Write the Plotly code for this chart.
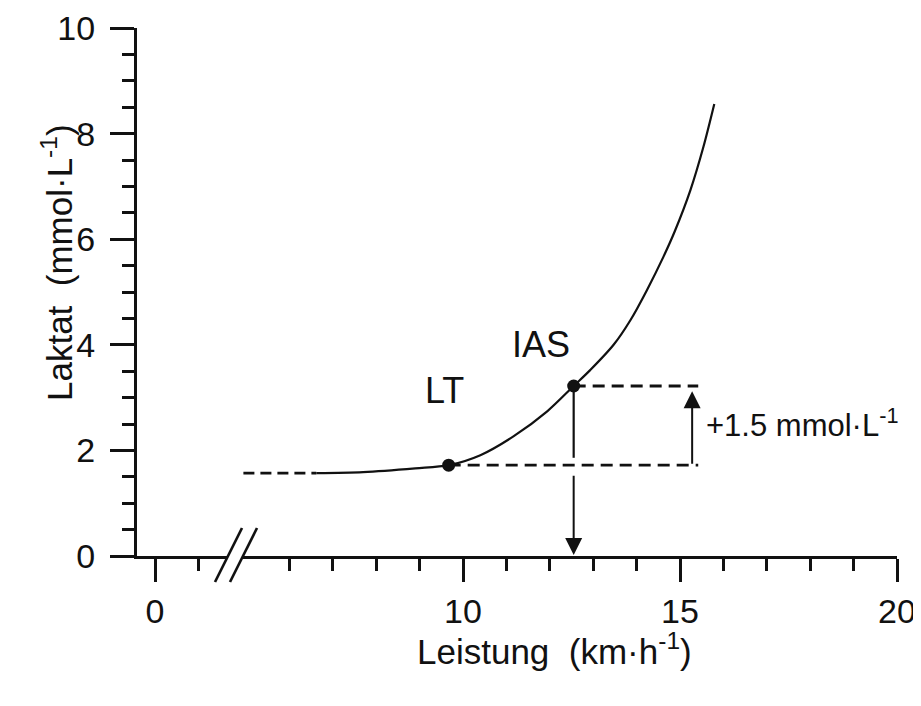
import plotly.graph_objects as go

# ---- data ----
curve_x = [6.62, 7.7, 8.9, 9.67, 10.40, 11.17, 11.94, 12.55, 12.93, 13.47, 13.86, 14.24, 14.62, 14.88, 15.24, 15.54, 15.79]
curve_y = [1.57, 1.59, 1.66, 1.72, 1.91, 2.27, 2.74, 3.22, 3.52, 4.00, 4.47, 5.04, 5.67, 6.15, 6.93, 7.75, 8.56]
extrap_x = [4.94, 6.62]
extrap_y = [1.57, 1.57]
point_names = ["LT", "IAS"]
point_x = [9.67, 12.55]
point_y = [1.72, 3.22]
delta_label = "+1.5 mmol·L<sup>-1</sup>"
arrow_x = 15.28
dash_end_x = 15.42
x_major_a = [0]
x_minor_a = [1]
x_major_b = [10, 15, 20]
x_minor_b = [6, 7, 8, 9, 11, 12, 13, 14, 16, 17, 18, 19]
y_major = [0, 2, 4, 6, 8, 10]
x_title = "Leistung  (km·h<sup>-1</sup>)"
y_title = "Laktat  (mmol·L<sup>-1</sup>)"

FONT = "Liberation Sans, Arial, sans-serif"
BLACK = "#111111"

# ---- geometry (pixels, in the reference picture) ----
W, H = 921, 706
L, R, T, B = 137, 24, 28, 150
PAGE_OFF = 8  # default page margin of the html body
PW = W - L - R
PH = H - T - B
PX_PER_X = 43.4
brk_a, brk_b = 228, 243  # pixel where axis parts end/start


def px2paper_x(px):
    return (px - L) / PW


def py2paper_y(py):
    return (H - B - py) / PH


ra0 = (L - 155) / PX_PER_X
ra1 = ra0 + (brk_a - L) / PX_PER_X
rb1 = 20
rb0 = rb1 - (L + PW - brk_b) / PX_PER_X

fig = go.Figure()

line_style = dict(color=BLACK, width=2.2)

# invisible trace so the first (short) x-axis segment is drawn
fig.add_trace(go.Scatter(x=[x_major_a[0]], y=[0], xaxis="x", yaxis="y", mode="markers",
                         marker=dict(opacity=0), hoverinfo="skip"))

fig.add_trace(go.Scatter(x=extrap_x, y=extrap_y, xaxis="x2", yaxis="y", mode="lines",
                         line=dict(color=BLACK, width=2.6, dash="11px,6px"), hoverinfo="skip"))
fig.add_trace(go.Scatter(x=curve_x, y=curve_y, xaxis="x2", yaxis="y", mode="lines",
                         line=dict(color=BLACK, width=2.2, shape="spline", smoothing=0.9), hoverinfo="skip"))

# dashed horizontal guides
for px_, py_ in zip(point_x, point_y):
    fig.add_trace(go.Scatter(x=[px_, dash_end_x], y=[py_, py_], xaxis="x2", yaxis="y", mode="lines",
                             line=dict(color=BLACK, width=2.8, dash="12px,7px"), hoverinfo="skip"))

# vertical line from IAS down to LT level
gap = 0.14
fig.add_trace(go.Scatter(x=[point_x[1], point_x[1]], y=[point_y[1], point_y[0] + gap], xaxis="x2", yaxis="y",
                         mode="lines", line=line_style, hoverinfo="skip"))

# points
fig.add_trace(go.Scatter(x=point_x, y=point_y, xaxis="x2", yaxis="y", mode="markers",
                         marker=dict(color=BLACK, size=13), hoverinfo="skip"))

# arrows
fig.add_annotation(x=point_x[1], y=0, ax=point_x[1], ay=point_y[0] - gap - 0.03,
                   xref="x2", yref="y", axref="x2", ayref="y", showarrow=True,
                   arrowhead=2, arrowsize=1.7, arrowwidth=2, arrowcolor=BLACK, standoff=1, text="")
fig.add_annotation(x=arrow_x, y=point_y[1] - 0.1, ax=arrow_x, ay=point_y[0],
                   xref="x2", yref="y", axref="x2", ayref="y", showarrow=True,
                   arrowhead=2, arrowsize=1.7, arrowwidth=2, arrowcolor=BLACK, standoff=0, text="")

# labels
fig.add_annotation(x=point_x[0] - 0.09, y=point_y[0] + 1.41, xref="x2", yref="y", text=point_names[0],
                   showarrow=False, font=dict(family=FONT, size=36, color=BLACK))
fig.add_annotation(x=point_x[1] - 0.76, y=point_y[1] + 0.78, xref="x2", yref="y", text=point_names[1],
                   showarrow=False, font=dict(family=FONT, size=36, color=BLACK))
fig.add_annotation(x=arrow_x + 0.27, y=(point_y[0] + point_y[1]) / 2 + 0.04, xref="x2", yref="y",
                   text=delta_label, xanchor="left", yanchor="middle",
                   showarrow=False, font=dict(family=FONT, size=31, color=BLACK))

# axis titles
fig.add_annotation(x=px2paper_x(554), y=py2paper_y(673), xref="paper", yref="paper", text=x_title,
                   showarrow=False, font=dict(family=FONT, size=35, color=BLACK))
fig.add_annotation(x=px2paper_x(33), y=py2paper_y(263), xref="paper", yref="paper", text=y_title,
                   textangle=-90, showarrow=False, font=dict(family=FONT, size=35, color=BLACK))

# axis break slashes
for x0, x1 in [(215, 242), (230, 257)]:
    fig.add_shape(type="line", xref="paper", yref="paper",
                  x0=px2paper_x(x0), y0=py2paper_y(582), x1=px2paper_x(x1), y1=py2paper_y(528),
                  line=dict(color=BLACK, width=2.6))

tickfont = dict(family=FONT, size=34, color=BLACK)
common_x = dict(showline=True, linecolor=BLACK, linewidth=3, ticks="outside", ticklen=23, tickwidth=2.8,
                tickcolor=BLACK, showgrid=False, zeroline=False, tickfont=tickfont, anchor="y",
                tickmode="array", fixedrange=True, automargin=False)
fig.update_layout(
    width=W - PAGE_OFF, height=H - PAGE_OFF,
    margin=dict(l=L - PAGE_OFF, r=R, t=T - PAGE_OFF, b=B, autoexpand=False),
    paper_bgcolor="white", plot_bgcolor="white", showlegend=False,
    xaxis=dict(domain=[0, px2paper_x(brk_a)], range=[ra0, ra1], tickvals=x_major_a,
               ticktext=[str(v) for v in x_major_a],
               minor=dict(tickmode="array", tickvals=x_minor_a, ticks="outside", ticklen=12, tickwidth=2.6,
                          tickcolor=BLACK), **common_x),
    xaxis2=dict(domain=[px2paper_x(brk_b), 1], range=[rb0, rb1], tickvals=x_major_b,
                ticktext=[str(v) for v in x_major_b],
                minor=dict(tickmode="array", tickvals=x_minor_b, ticks="outside", ticklen=12, tickwidth=2.6,
                           tickcolor=BLACK), **common_x),
    yaxis=dict(range=[0, 10], tickmode="array", tickvals=y_major, ticktext=[str(v) for v in y_major],
               showline=True, linecolor=BLACK, linewidth=3, ticks="outside", ticklen=24, tickwidth=2.8,
               tickcolor=BLACK, showgrid=False, zeroline=False, tickfont=tickfont, fixedrange=True,
               automargin=False, ticklabelstandoff=8,
               minor=dict(dtick=0.5, ticks="outside", ticklen=12, tickwidth=2.6, tickcolor=BLACK)),
)

fig.write_html("out.html")
